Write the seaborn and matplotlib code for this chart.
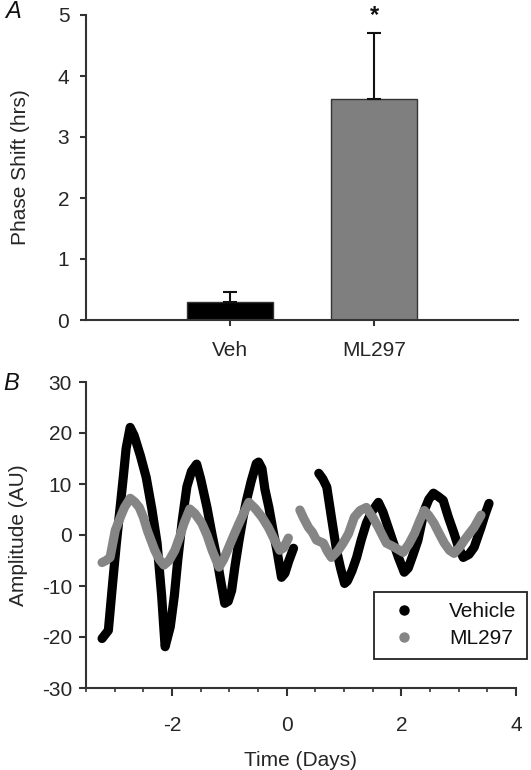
import numpy as np
import pandas as pd
import matplotlib
matplotlib.use("Agg")
import matplotlib.pyplot as plt
import seaborn as sns
from matplotlib.lines import Line2D
from matplotlib.ticker import MultipleLocator

# ------------------ Data ------------------
# Panel A: phase shift bars
groups = ["Veh", "ML297"]
phase_shift = [0.30, 3.63]
phase_err = [0.16, 1.07]
bar_colors = ["#000000", "#7f7f7f"]

# Panel B: bioluminescence traces (two recording segments each)
veh_t1 = [-3.22, -3.11, -3.04, -2.97, -2.85, -2.80, -2.73, -2.66, -2.55, -2.45, -2.35, -2.26, -2.18,
          -2.14, -2.12, -2.03, -1.96, -1.90, -1.82, -1.74, -1.66, -1.57, -1.50, -1.39, -1.30, -1.22,
          -1.15, -1.08, -1.02, -0.96, -0.90, -0.83, -0.76, -0.70, -0.62, -0.53, -0.49, -0.43, -0.38,
          -0.31, -0.24, -0.17, -0.09, -0.03, 0.04, 0.12]
veh_a1 = [-20.3, -18.7, -10.0, -1.6, 11.3, 17.0, 21.1, 19.5, 15.5, 11.3, 5.0, -1.6, -12.0,
          -18.7, -21.9, -18.0, -12.0, -5.0, 3.0, 9.5, 12.5, 13.9, 11.0, 5.4, 0.0, -4.4,
          -9.0, -13.4, -13.0, -10.9, -6.0, -1.0, 3.5, 6.8, 10.5, 14.0, 14.3, 13.0, 9.0,
          5.4, 1.0, -3.0, -8.3, -7.5, -5.0, -2.6]
veh_t2 = [0.56, 0.63, 0.70, 0.78, 0.87, 0.94, 1.01, 1.06, 1.14, 1.22, 1.30, 1.39, 1.48, 1.60,
          1.68, 1.77, 1.86, 1.95, 2.05, 2.12, 2.20, 2.29, 2.40, 2.48, 2.56, 2.65, 2.73, 2.82,
          2.92, 3.00, 3.08, 3.18, 3.27, 3.39, 3.46, 3.53]
veh_a2 = [12.1, 11.0, 9.4, 3.5, -3.0, -6.5, -9.5, -9.0, -7.0, -4.4, -1.0, 2.3, 4.5, 6.4,
          4.5, 1.5, -1.5, -4.4, -7.3, -6.5, -4.0, -1.0, 4.8, 7.0, 8.2, 7.5, 6.8, 3.5,
          0.3, -2.5, -4.4, -3.8, -2.4, 1.5, 4.0, 6.2]

ml_t1 = [-3.22, -3.15, -3.08, -2.99, -2.90, -2.83, -2.73, -2.65, -2.57, -2.50, -2.43, -2.30, -2.22,
         -2.14, -2.05, -1.95, -1.87, -1.79, -1.69, -1.60, -1.48, -1.39, -1.30, -1.18, -1.10, -1.01,
         -0.92, -0.83, -0.74, -0.66, -0.55, -0.43, -0.32, -0.21, -0.12, -0.05, 0.03]
ml_a1 = [-5.4, -5.0, -4.4, 0.9, 3.5, 5.4, 7.2, 6.5, 5.4, 3.5, 0.9, -3.0, -4.8,
         -5.9, -5.0, -3.0, -0.5, 2.3, 5.1, 4.2, 2.3, 0.0, -3.0, -6.3, -4.8, -2.4,
         0.0, 2.3, 4.5, 6.4, 5.2, 3.5, 1.5, -1.0, -3.0, -2.5, -0.6]
ml_t2 = [0.23, 0.30, 0.38, 0.45, 0.52, 0.64, 0.71, 0.78, 0.90, 0.99, 1.08, 1.18, 1.28, 1.39,
         1.50, 1.60, 1.74, 1.88, 2.03, 2.13, 2.23, 2.32, 2.40, 2.48, 2.57, 2.66, 2.75, 2.84,
         2.92, 3.01, 3.10, 3.18, 3.27, 3.39]
ml_a2 = [4.9, 3.2, 1.5, 0.5, -1.0, -1.6, -3.2, -4.4, -3.0, -1.5, 0.3, 3.5, 4.8, 5.4,
         3.5, 1.5, -1.6, -2.4, -3.4, -1.8, 0.3, 2.8, 4.8, 3.8, 2.3, 0.3, -1.6, -3.0,
         -3.6, -2.5, -1.0, 0.2, 1.5, 3.9]

series_names = ["Vehicle", "ML297"]
series_colors = {"Vehicle": "#000000", "ML297": "#858585"}

# ------------------ Build tables ------------------
bars = pd.DataFrame({"group": groups, "shift": phase_shift})

parts = []
for name, seg, t, a in [("Vehicle", "v1", veh_t1, veh_a1), ("Vehicle", "v2", veh_t2, veh_a2),
                        ("ML297", "m1", ml_t1, ml_a1), ("ML297", "m2", ml_t2, ml_a2)]:
    parts.append(pd.DataFrame({"time": t, "amp": a, "series": name, "seg": seg}))
traces = pd.concat(parts, ignore_index=True)

# ------------------ Plot ------------------
sns.set_style("ticks")
plt.rcParams["font.family"] = ["Liberation Sans", "DejaVu Sans"]
plt.rcParams["axes.unicode_minus"] = False
plt.rcParams["text.color"] = "#111111"
axis_col = "#333333"

fig = plt.figure(figsize=(5.31, 7.7), dpi=100)
ax1 = fig.add_axes([86 / 531, 1 - 320 / 770, 432 / 531, 305 / 770])
ax2 = fig.add_axes([86 / 531, 1 - 688 / 770, 430 / 531, 306 / 770])

# Panel A
sns.barplot(data=bars, x="group", y="shift", hue="group", palette=bar_colors,
            width=0.6, edgecolor=axis_col, linewidth=1.0, legend=False, ax=ax1)
ax1.errorbar(range(len(groups)), phase_shift, yerr=[[0] * len(groups), phase_err],
             fmt="none", ecolor="#111111", elinewidth=1.5, capsize=4.7, capthick=1.5)
ax1.text(1, 4.80, "*", ha="center", va="bottom", fontsize=17, fontweight="bold")
ax1.set_xlim(-1, 2)
ax1.set_ylim(0, 5)
ax1.set_yticks(range(6))
ax1.set_xlabel("")
ax1.set_ylabel("Phase Shift (hrs)", fontsize=15, labelpad=20)
ax1.tick_params(axis="y", labelsize=15, length=4, width=1.5, color=axis_col, pad=8)
ax1.tick_params(axis="x", labelsize=15, length=4, width=1.5, color=axis_col, pad=11)

# Panel B
sns.lineplot(data=traces[traces.series == "Vehicle"], x="time", y="amp", units="seg",
             estimator=None, sort=False, color=series_colors["Vehicle"], linewidth=6.6,
             solid_capstyle="round", solid_joinstyle="round", ax=ax2)
sns.lineplot(data=traces[traces.series == "ML297"], x="time", y="amp", units="seg",
             estimator=None, sort=False, color=series_colors["ML297"], linewidth=6.6,
             solid_capstyle="round", solid_joinstyle="round", ax=ax2)
ax2.set_xlim(-3.5, 4)
ax2.set_ylim(-30, 30)
ax2.set_xticks([-2, 0, 2, 4])
ax2.xaxis.set_minor_locator(MultipleLocator(0.5))
ax2.set_yticks(range(-30, 31, 10))
ax2.set_xlabel("Time (Days)", fontsize=15, labelpad=12)
ax2.set_ylabel("Amplitude (AU)", fontsize=15, labelpad=10)
ax2.tick_params(axis="y", labelsize=15, length=5, width=1.5, color=axis_col, pad=5)
ax2.tick_params(axis="x", which="major", labelsize=15, length=6, width=1.5, color=axis_col, pad=14)
ax2.tick_params(axis="x", which="minor", length=3, width=1.2, color=axis_col)

handles = [Line2D([], [], ls="none", marker="o", markersize=6.5, color=series_colors[n])
           for n in series_names]
leg = ax2.legend(handles, series_names, loc="upper right", bbox_to_anchor=(1.026, 0.314),
                 borderaxespad=0, fontsize=15, frameon=True, fancybox=False, framealpha=1,
                 handletextpad=1.3, borderpad=0.5, labelspacing=0.38, handlelength=1.8)
leg.get_frame().set_edgecolor("#222222")
leg.get_frame().set_linewidth(1.3)

for ax in (ax1, ax2):
    sns.despine(ax=ax)
    for side in ("left", "bottom"):
        ax.spines[side].set_color(axis_col)
        ax.spines[side].set_linewidth(1.5)

fig.text(5 / 531, 1 - 12 / 770, "A", fontsize=17, style="italic", va="center", ha="left")
fig.text(3 / 531, 1 - 383 / 770, "B", fontsize=17, style="italic", va="center", ha="left")

fig.savefig("out.png", dpi=100)
